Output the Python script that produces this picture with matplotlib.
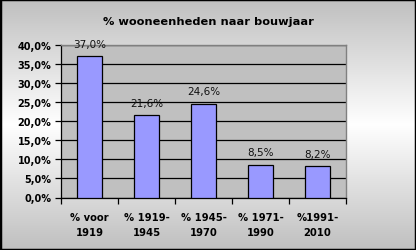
import numpy as np
import matplotlib.pyplot as plt
from matplotlib.ticker import FuncFormatter

categorieen = ["% voor\n1919", "% 1919-\n1945", "% 1945-\n1970", "% 1971-\n1990", "%1991-\n2010"]
waarden = [37.0, 21.6, 24.6, 8.5, 8.2]
titel = "% wooneenheden naar bouwjaar"

fig = plt.figure(figsize=(4.16, 2.51), dpi=100)

# achtergrond met verloop (grijs boven - wit midden - grijs onder)
bg = fig.add_axes([0, 0, 1, 1], zorder=-10)
t = np.linspace(0, 1, 256)
grad = 0.75 + 0.25 * (1 - np.abs(t - 0.5) * 2)
grad = grad[:, None]
bg.imshow(np.dstack([grad, grad, grad]), aspect="auto", extent=[0, 1, 0, 1])
bg.set_axis_off()
bg.add_patch(plt.Rectangle((0, 0), 1, 1, transform=bg.transAxes, fill=False,
                           edgecolor="black", linewidth=2.5, clip_on=False))

W, H = 416, 251
ax = fig.add_axes([61 / W, 1 - 198.5 / H, 285 / W, 152.5 / H])
ax.set_facecolor("#c0c0c0")

x = np.arange(len(waarden))
ax.bar(x, waarden, width=0.44, color="#9999ff", edgecolor="black", linewidth=0.9, zorder=3)

for xi, v in zip(x, waarden):
    ax.text(xi, v + 2.0, f"{v:.1f}%".replace(".", ","), ha="center", va="bottom",
            fontsize=7.5, color="#111111")

ax.set_xlim(-0.5, len(waarden) - 0.5)
ax.set_ylim(0, 40)
ax.set_yticks(np.arange(0, 41, 5))
ax.yaxis.set_major_formatter(FuncFormatter(lambda v, p: f"{v:.1f}%".replace(".", ",")))
ax.grid(axis="y", color="black", linewidth=0.9, zorder=1)
ax.set_axisbelow(True)

ax.set_xticks(x)
ax.set_xticklabels(categorieen, fontweight="bold", fontsize=7.2, linespacing=1.6)
ax.set_xticks(np.arange(-0.5, len(waarden)), minor=True)
ax.tick_params(axis="x", which="major", length=0, pad=10.5)
ax.tick_params(axis="x", which="minor", length=4, width=0.9, direction="out")
ax.tick_params(axis="y", length=4, width=0.9, pad=3, labelsize=7)
for lab in ax.get_yticklabels():
    lab.set_fontweight("bold")

for s in ["top", "right"]:
    ax.spines[s].set_color("#808080")
    ax.spines[s].set_linewidth(1)
for s in ["left", "bottom"]:
    ax.spines[s].set_color("black")
    ax.spines[s].set_linewidth(0.9)

fig.text(0.5, 1 - 22 / H, titel, ha="center", va="center", fontsize=8.2, fontweight="bold")

fig.savefig("out.png", dpi=100)
